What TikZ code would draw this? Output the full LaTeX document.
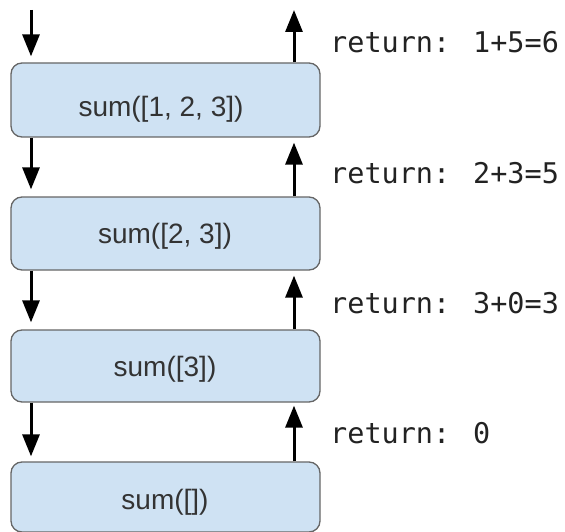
\documentclass[tikz,border=0pt]{standalone}
\usepackage{fontspec}
\setmainfont{Liberation Sans}
\newfontfamily\monof{DejaVu Sans Mono}
\usetikzlibrary{arrows.meta}
\definecolor{boxfill}{HTML}{CFE2F3}
\definecolor{boxline}{HTML}{666666}
\definecolor{txt}{HTML}{333333}
\definecolor{mtxt}{HTML}{222222}
\tikzset{
  callbox/.style={draw=boxline, line width=1.3pt, fill=boxfill, rounded corners=11pt,
    minimum width=309pt, inner sep=0pt},
  calltext/.style={text=txt, inner sep=0pt, font=\fontsize{28}{32}\selectfont},
  rettext/.style={text=mtxt, inner sep=0pt, anchor=base west, font=\monof\fontsize{28.5}{32}\selectfont},
  arr/.style={line width=3pt, -{Triangle[width=17pt,length=22pt]}},
}
\begin{document}
\begin{tikzpicture}[x=1pt,y=-1pt]
\useasboundingbox (0,0) rectangle (565,532);
\coordinate (dx) at (31,0);
\coordinate (ux) at (294,0);
\coordinate (in) at (31,10);
\coordinate (out) at (294,10);

\node[callbox, minimum height=74pt] (b1) at (165.5,100) {};
\node[callbox, minimum height=73pt] (b2) at (165.5,233.5) {};
\node[callbox, minimum height=72pt] (b3) at (165.5,366) {};
\node[callbox, minimum height=70pt] (b4) at (165.5,497) {};

\node[calltext] (t1) at (161,109) {sum([1, 2, 3])};
\node[calltext] (t2) at (165,236.5) {sum([2, 3])};
\node[calltext] (t3) at (165,369) {sum([3])};
\node[calltext] (t4) at (165,502.5) {sum([])};

\draw[arr] (in) -- ([yshift=6pt]b1.north -| dx);
\draw[arr] (b1.north -| ux) -- (out);
\draw[arr] (b1.south -| dx) -- ([yshift=7pt]b2.north -| dx);
\draw[arr] (b2.north -| ux) -- ([yshift=-5pt]b1.south -| ux);
\draw[arr] (b2.south -| dx) -- ([yshift=7pt]b3.north -| dx);
\draw[arr] (b3.north -| ux) -- ([yshift=-5pt]b2.south -| ux);
\draw[arr] (b3.south -| dx) -- ([yshift=5pt]b4.north -| dx);
\draw[arr] (b4.north -| ux) -- ([yshift=-3pt]b3.south -| ux);

\node[rettext] (r1) at (330,52.4) {return: 1+5=6};
\node[rettext] (r2) at (330,183.4) {return: 2+3=5};
\node[rettext] (r3) at (330,313.4) {return: 3+0=3};
\node[rettext] (r4) at (330,443.4) {return: 0};
\end{tikzpicture}
\end{document}
